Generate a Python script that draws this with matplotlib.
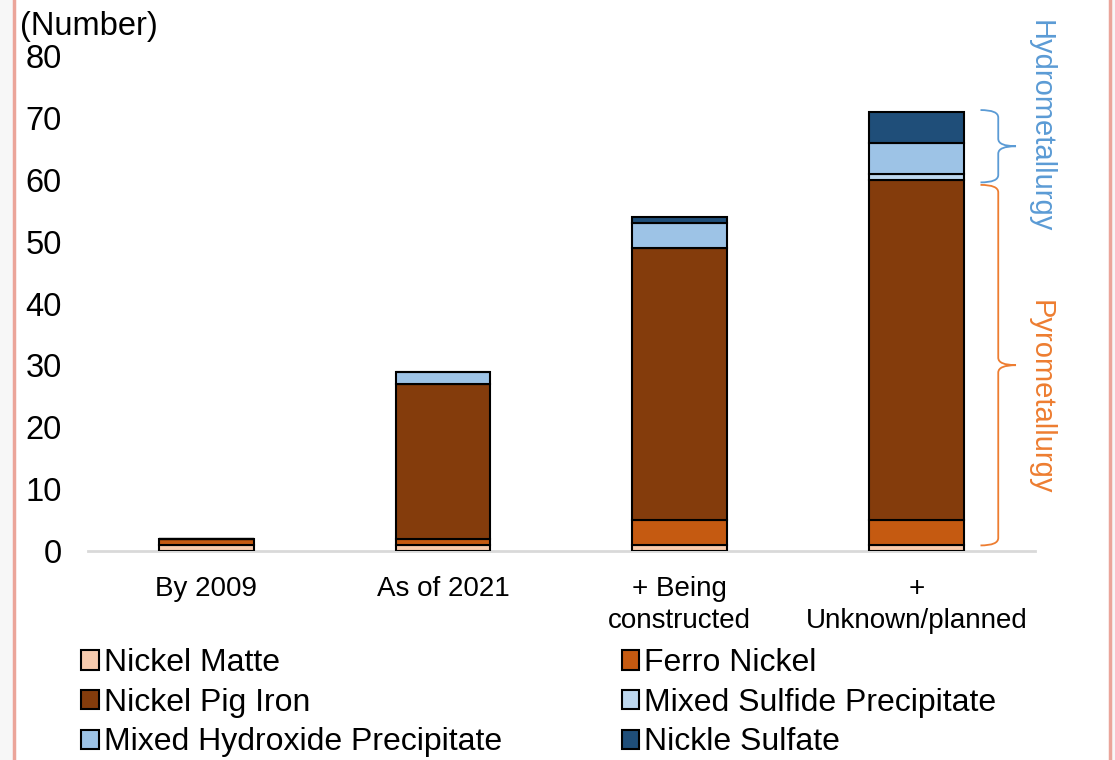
import numpy as np
import matplotlib.pyplot as plt
from matplotlib.patches import Patch, PathPatch, Rectangle
from matplotlib.path import Path

plt.rcParams['font.family'] = ['Liberation Sans', 'DejaVu Sans']

categories = ['By 2009', 'As of 2021', '+ Being\nconstructed', '+\nUnknown/planned']
series = ['Nickel Matte', 'Ferro Nickel', 'Nickel Pig Iron',
          'Mixed Sulfide Precipitate', 'Mixed Hydroxide Precipitate', 'Nickle Sulfate']
nickel_matte = [1, 1, 1, 1]
ferro_nickel = [1, 1, 4, 4]
nickel_pig_iron = [0, 25, 44, 55]
mixed_sulfide = [0, 0, 0, 1]
mixed_hydroxide = [0, 2, 4, 5]
nickle_sulfate = [0, 0, 1, 5]
colors = ['#F8CBAD', '#C55A11', '#843C0C', '#BDD7EE', '#9DC3E6', '#1F4E79']

values = [nickel_matte, ferro_nickel, nickel_pig_iron,
          mixed_sulfide, mixed_hydroxide, nickle_sulfate]

fig = plt.figure(figsize=(11.15, 7.6), dpi=100)
ax = fig.add_axes([0.0789, 0.275, 0.8493, 0.651])

x = np.arange(len(categories))
bottom = np.zeros(len(categories))
for name, vals, c in zip(series, values, colors):
    vals = np.array(vals, dtype=float)
    ax.bar(x, vals, 0.4, bottom=bottom, color=c, edgecolor='black',
           linewidth=1.5, label=name, zorder=3)
    bottom += vals

ax.set_xlim(-0.5, 3.5)
ax.set_ylim(0, 80)
ax.set_yticks(range(0, 81, 10))
ax.tick_params(axis='y', length=0, labelsize=23.5, pad=19)
ax.tick_params(axis='x', length=0, labelsize=20, pad=18)
ax.set_xticks(x)
ax.set_xticklabels(categories, linespacing=1.3)
for s in ['left', 'right', 'top']:
    ax.spines[s].set_visible(False)
ax.spines['bottom'].set_color('#D9D9D9')
ax.spines['bottom'].set_linewidth(2)

fig.text(0.018, 0.985, '(Number)', fontsize=23.5, va='top', ha='left')


def brace(ax, y0, y1, x0, x1, x2, color):
    # curly brace opening to the left, tip pointing right
    ym = (y0 + y1) / 2
    r = 1.2
    verts = [(x0, y1), (x1, y1), (x1, y1 - r),
             (x1, ym + r), (x1, ym), (x2, ym),
             (x1, ym), (x1, ym - r),
             (x1, y0 + r), (x1, y0), (x0, y0)]
    codes = [Path.MOVETO, Path.CURVE3, Path.CURVE3,
             Path.LINETO, Path.CURVE3, Path.CURVE3,
             Path.CURVE3, Path.CURVE3,
             Path.LINETO, Path.CURVE3, Path.CURVE3]
    ax.add_patch(PathPatch(Path(verts, codes), fill=False, edgecolor=color,
                           linewidth=1.3, clip_on=False, zorder=4))


brace(ax, 59.6, 71.3, 3.27, 3.345, 3.42, '#5B9BD5')
brace(ax, 0.9, 59.2, 3.27, 3.345, 3.42, '#ED7D31')

fig.text(0.933, 0.834, 'Hydrometallurgy', rotation=-90, fontsize=21,
         color='#5B9BD5', ha='center', va='center')
fig.text(0.933, 0.477, 'Pyrometallurgy', rotation=-90, fontsize=21,
         color='#ED7D31', ha='center', va='center')

# legend ordered so the two columns read left-to-right
handles = [Patch(facecolor=c, edgecolor='black', linewidth=1.5) for c in colors]
order = [0, 2, 4, 1, 3, 5]
fig.legend([handles[i] for i in order], [series[i] for i in order],
           loc='upper left', bbox_to_anchor=(0.073, 0.147), ncol=2,
           frameon=False, fontsize=23, handlelength=0.55, handleheight=0.55,
           handletextpad=0.15, labelspacing=0.3, columnspacing=3.75,
           borderpad=0, borderaxespad=0)

# slide frame edges
fig.patches.append(Rectangle((0, 0), 0.012, 1, transform=fig.transFigure,
                             facecolor='#F7F7F7', edgecolor='none', zorder=0))
fig.patches.append(Rectangle((0.9965, 0), 0.0035, 1, transform=fig.transFigure,
                             facecolor='#F7F7F7', edgecolor='none', zorder=0))
fig.add_artist(plt.Line2D([0.0125, 0.0125], [0, 1], transform=fig.transFigure,
                          color='#EBA59A', linewidth=2.5))
fig.add_artist(plt.Line2D([0.9955, 0.9955], [0, 1], transform=fig.transFigure,
                          color='#EBA59A', linewidth=2.5))

fig.savefig('out.png', dpi=100)
